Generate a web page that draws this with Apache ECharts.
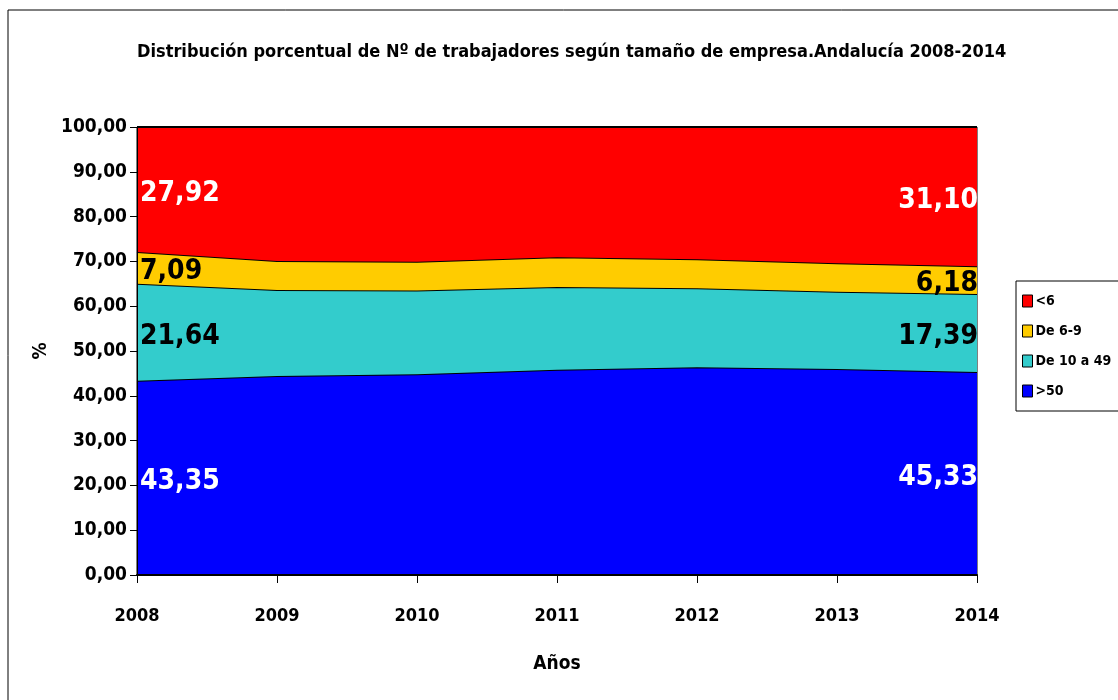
<!DOCTYPE html>
<html>
<head>
<meta charset="utf-8">
<script src="https://cdn.jsdelivr.net/npm/echarts@6/dist/echarts.min.js"></script>
<style>
html,body{margin:0;padding:0;background:#fff;}
#chart{width:1118px;height:700px;}
</style>
</head>
<body>
<div id="chart"></div>
<script>
var years=['2008','2009','2010','2011','2012','2013','2014'];
var serie_mas50=[43.35,44.4,44.8,45.8,46.4,46.0,45.33];
var serie_10a49=[21.64,19.2,18.7,18.5,17.6,17.2,17.39];
var serie_6a9=[7.09,6.5,6.4,6.6,6.5,6.4,6.18];
var serie_menos6=[27.92,29.9,30.1,29.1,29.5,30.4,31.10];
var nombres=['>50','De 10 a 49','De 6-9','<6'];
var colores=['#0000FF','#33CCCC','#FFCC00','#FF0000'];
var colorEtiqueta=['#fff','#000','#000','#fff'];

var fuente='"DejaVu Sans Condensed","Liberation Sans",sans-serif';
var gridTop=127,gridBottom=125;
var pxUnidad=(700-gridTop-gridBottom)/100;

function fmt(v){return v.toFixed(2).replace('.',',');}

//etiquetas solo en el primer y ultimo año, centradas en su franja
function datosConEtiqueta(valores,idx){
    return valores.map(function(v,i){
        if(i!==0&&i!==valores.length-1){return v;}
        var primero=(i===0);
        return {
            value:v,
            label:{
                show:true,
                position:'inside',
                align:primero?'left':'right',
                verticalAlign:'middle',
                offset:[primero?3:1,v/2*pxUnidad+4],
                formatter:fmt(v),
                color:colorEtiqueta[idx],
                fontSize:28,
                fontWeight:'bold',
                fontFamily:fuente
            }
        };
    });
}

var valores=[serie_mas50,serie_10a49,serie_6a9,serie_menos6];
var series=valores.map(function(vals,idx){
    return {
        name:nombres[idx],
        type:'line',
        stack:'total',
        data:datosConEtiqueta(vals,idx),
        symbol:'circle',
        symbolSize:0,
        showSymbol:true,
        lineStyle:{color:'#000',width:2},
        itemStyle:{color:colores[idx]},
        areaStyle:{color:colores[idx],opacity:1},
        emphasis:{disabled:true},
        z:2+idx
    };
});

var chart=echarts.init(document.getElementById('chart'));
chart.setOption({
    animation:false,
    backgroundColor:'#fff',
    graphic:[{
        type:'rect',
        shape:{x:8,y:10,width:1300,height:900},
        style:{fill:'none',stroke:'#000',lineWidth:1},
        silent:true
    }],
    title:{
        text:'Distribución porcentual de Nº de trabajadores según tamaño de empresa.Andalucía 2008-2014',
        left:132,
        top:38,
        textStyle:{fontSize:18,fontWeight:'bold',color:'#000',fontFamily:fuente}
    },
    legend:{
        data:['<6','De 6-9','De 10 a 49','>50'],
        orient:'vertical',
        left:1016,
        top:281,
        icon:'rect',
        itemWidth:10,
        itemHeight:12,
        itemGap:16,
        padding:[13,40,13,6],
        borderColor:'#000',
        borderWidth:1,
        itemStyle:{borderColor:'#000',borderWidth:1},
        textStyle:{fontSize:14,fontWeight:'bold',color:'#000',fontFamily:fuente,padding:[0,0,0,-2]},
        selectedMode:false
    },
    grid:{
        left:137,
        right:141,
        top:gridTop,
        bottom:gridBottom,
        show:true,
        borderColor:'#000',
        borderWidth:1,
        backgroundColor:'transparent'
    },
    xAxis:{
        type:'category',
        data:years,
        boundaryGap:false,
        name:'Años',
        nameLocation:'middle',
        nameGap:80,
        nameTextStyle:{fontSize:19,fontWeight:'bold',color:'#000',fontFamily:fuente},
        axisLine:{lineStyle:{color:'#000',width:2}},
        axisTick:{show:true,length:8,lineStyle:{color:'#000'}},
        axisLabel:{fontSize:18,fontWeight:'bold',color:'#000',fontFamily:fuente,margin:32},
        splitLine:{show:false},
        z:10
    },
    yAxis:{
        type:'value',
        min:0,
        max:100,
        interval:10,
        name:'%',
        nameLocation:'middle',
        nameGap:77,
        nameRotate:90,
        nameTextStyle:{fontSize:19,fontWeight:'bold',color:'#000',fontFamily:fuente},
        axisLine:{show:true,lineStyle:{color:'#000',width:1}},
        axisTick:{show:true,length:7,lineStyle:{color:'#000'}},
        axisLabel:{fontSize:19,fontWeight:'bold',color:'#000',fontFamily:fuente,margin:10,formatter:function(v){return fmt(v);}},
        splitLine:{show:false},
        z:10
    },
    series:series
});
</script>
</body>
</html>
